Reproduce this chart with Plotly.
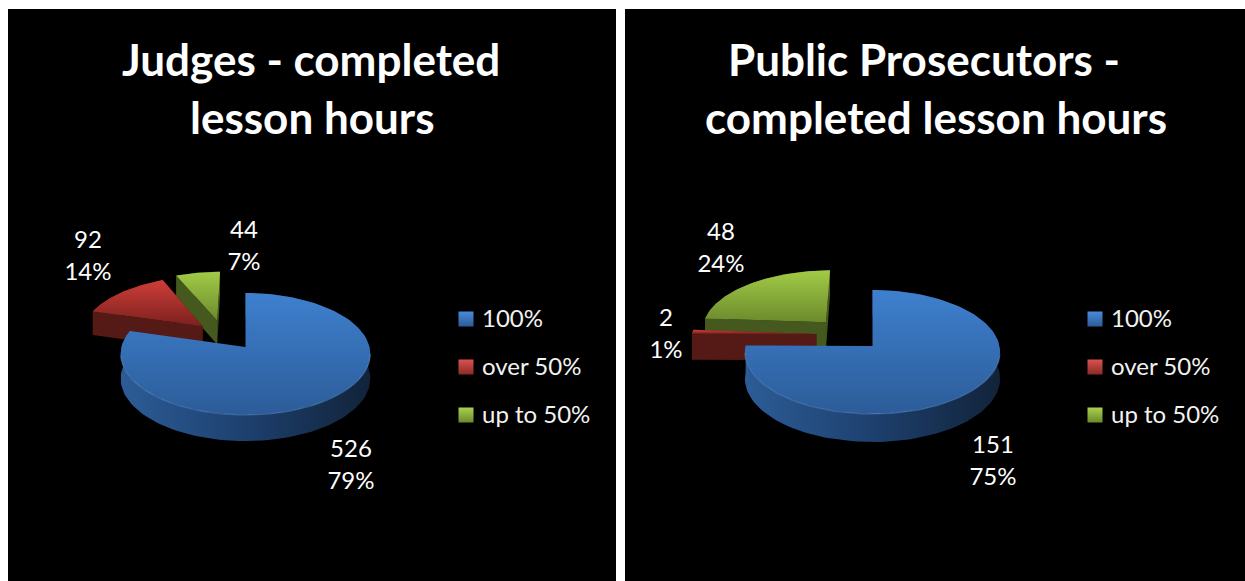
import numpy as np
import plotly.graph_objects as go

categories = ["100%", "over 50%", "up to 50%"]
judges_values = [526, 92, 44]
prosecutors_values = [151, 2, 48]
judges_title = ["Judges - completed", "lesson hours"]
prosecutors_title = ["Public Prosecutors -", "completed lesson hours"]

TOP = [("#3E80CF", "#2C5C98"), ("#CF3D38", "#7A211E"), ("#A2CB47", "#6C8A2C")]
RADIAL = ["#1C3A63", "#551A15", "#45581D"]
ARC = [[[0, "#2C5C96"], [0.45, "#1F4373"], [1, "#11233A"]],
       [[0, "#6A201B"], [1, "#4A1511"]],
       [[0, "#55701F"], [1, "#3C4D19"]]]
MARK = [("#4A8ADB", "#2C5C98"), ("#D9534F", "#8A2A26"), ("#A9D24F", "#6C8A2C")]
FONT = "Lato"

panels = [
    dict(x0=8, x1=616, cx=245.5, cy=347, a=124, b=60.2, k=0.115, d=24.5,
         offs=[(0, 0), (-0.36, 0.36), (-0.24, 0.46)],
         label_xy=[(351, 451), (88, 242), (244, 232)], legend_x=466, legend_text_x=482,
         legend_y=[321, 369, 417], title_xy=[(311, 59), (312, 117)],
         values=judges_values, title=judges_title),
    dict(x0=625, x1=1245, cx=872.5, cy=346, a=127, b=61.4, k=0.097, d=26.6,
         offs=[(0, 0), (-0.45, 0.2), (-0.38, 0.4)],
         label_xy=[(993, 447), (666, 320), (721, 234)], legend_x=1095, legend_text_x=1111,
         legend_y=[321, 369, 417], title_xy=[(924, 59), (936, 117)],
         values=prosecutors_values, title=prosecutors_title),
]

fig = go.Figure()
annotations, shapes = [], []


def add_poly(xs, ys, **style):
    fig.add_trace(go.Scatter(x=xs, y=ys, mode="lines", fill="toself", showlegend=False,
                             hoverinfo="skip", line=dict(width=0), **style))


for p in panels:
    shapes.append(dict(type="rect", xref="x", yref="y", x0=p["x0"], x1=p["x1"], y0=9, y1=581,
                       fillcolor="#000000", line=dict(width=0), layer="below"))
    total = sum(p["values"])
    fracs = np.array(p["values"]) / total
    starts = np.concatenate([[0], np.cumsum(fracs)[:-1]]) * 2 * np.pi
    ends = np.cumsum(fracs) * 2 * np.pi

    def proj(u, v):
        w = 1 + p["k"] * v
        return p["cx"] + p["a"] * u / w, p["cy"] - p["b"] * v / w, p["d"] / np.sqrt(w)

    for i in [2, 1, 0]:
        du, dv = p["offs"][i]
        th = np.linspace(starts[i], ends[i], 120)
        ax, ay, ad = proj(du + np.sin(th), dv + np.cos(th))
        ox, oy, od = proj(du, dv)
        # outer wall
        wx = np.concatenate([ax, ax[::-1]])
        wy = np.concatenate([ay, (ay + ad)[::-1]])
        add_poly(wx, wy, fillgradient=dict(type="horizontal", colorscale=ARC[i]))
        # radial walls (the large slice hides its own)
        if i > 0:
            for ex, ey, ed in [(ax[0], ay[0], ad[0]), (ax[-1], ay[-1], ad[-1])]:
                add_poly([ox, ex, ex, ox, ox], [oy, ey, ey + ed, oy + od, oy], fillcolor=RADIAL[i])
        # top face
        tx = np.concatenate([[ox], ax, [ox]])
        ty = np.concatenate([[oy], ay, [oy]])
        add_poly(tx, ty, fillgradient=dict(type="vertical",
                                           colorscale=[[0, TOP[i][1]], [1, TOP[i][0]]]))
        if i == 0:
            mask = np.cos(th) < -0.1
            fig.add_trace(go.Scatter(x=ax[mask], y=ay[mask], mode="lines", showlegend=False,
                                     hoverinfo="skip",
                                     line=dict(color="rgba(110,160,225,0.4)", width=1.2)))

    # data labels
    for i, (lx, ly) in enumerate(p["label_xy"]):
        fig.add_trace(go.Scatter(x=[lx, lx], y=[ly, ly + 32], mode="text", showlegend=False,
                                 text=[str(p["values"][i]), f"{round(fracs[i] * 100)}%"],
                                 textposition="middle center", hoverinfo="skip",
                                 textfont=dict(family=FONT, size=24, color="#FFFFFF")))
    # legend
    for i, cat in enumerate(categories):
        fig.add_trace(go.Scatter(x=[p["legend_x"]], y=[p["legend_y"][i] - 2], mode="markers",
                                 showlegend=False, hoverinfo="skip",
                                 marker=dict(symbol="square", size=15, color=MARK[i][0],
                                             gradient=dict(type="vertical", color=MARK[i][1]),
                                             line=dict(width=0))))
        fig.add_trace(go.Scatter(x=[p["legend_text_x"]], y=[p["legend_y"][i]], mode="text",
                                 text=[cat], textposition="middle right", showlegend=False,
                                 hoverinfo="skip",
                                 textfont=dict(family=FONT, size=24, color="#F2F2F2")))
    # title
    for line, (tx_, ty_) in zip(p["title"], p["title_xy"]):
        annotations.append(dict(x=tx_, y=ty_, xref="x", yref="y", text=f"<b>{line}</b>",
                                showarrow=False, xanchor="center", yanchor="middle",
                                font=dict(family=FONT, size=44, color="#FFFFFF")))

fig.update_layout(
    width=1245, height=581, margin=dict(l=0, r=0, t=0, b=0),
    paper_bgcolor="#FFFFFF", plot_bgcolor="#FFFFFF", showlegend=False,
    xaxis=dict(range=[0, 1245], visible=False, fixedrange=True),
    yaxis=dict(range=[581, 0], visible=False, fixedrange=True),
    shapes=shapes, annotations=annotations,
)
fig.write_html("out.html", config={"displayModeBar": False},
               post_script="document.body.style.margin='0';document.body.style.overflow='hidden';")
